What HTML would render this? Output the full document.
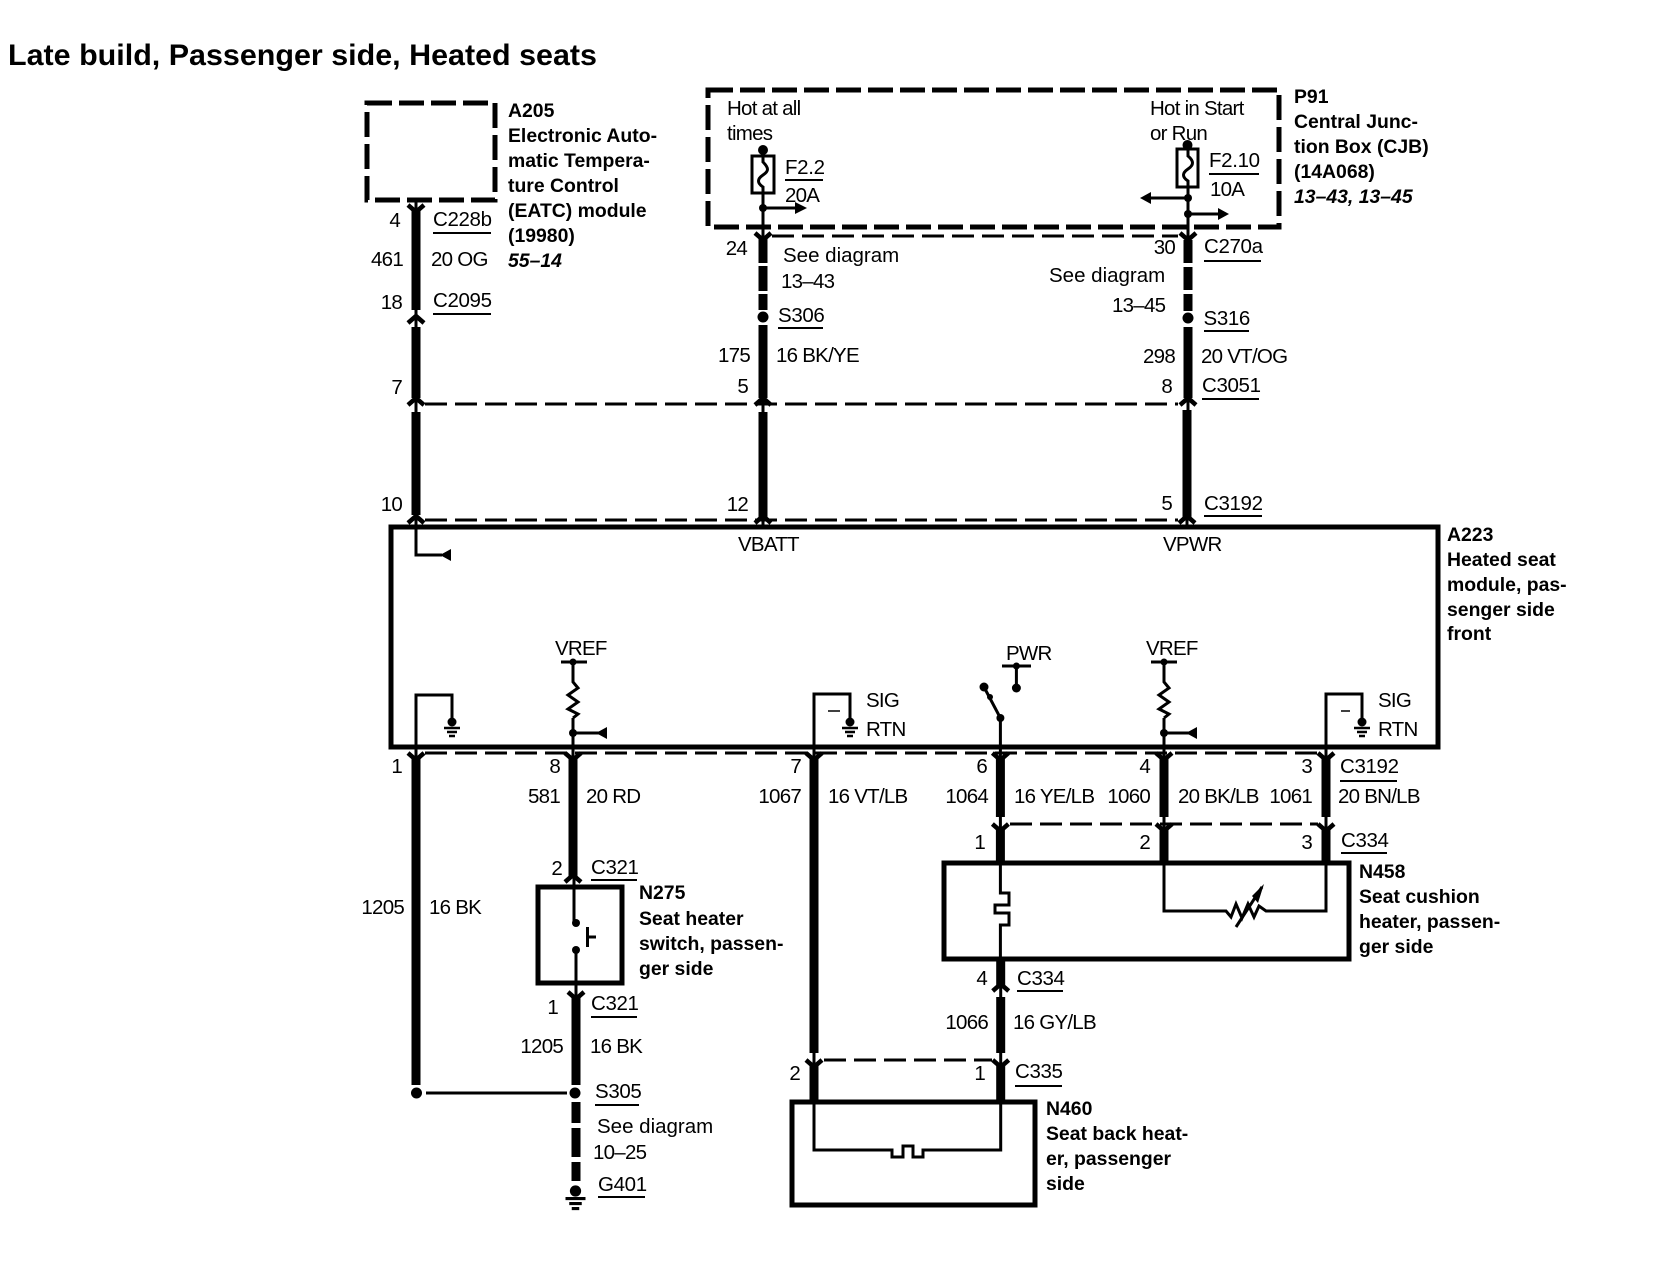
<!DOCTYPE html>
<html><head><meta charset="utf-8"><style>
html,body{margin:0;padding:0;background:#fff}
svg{display:block}
text{font-family:"Liberation Sans",sans-serif;fill:#000}
.r{font-size:20.5px;letter-spacing:-0.75px}
.k{letter-spacing:-0.35px}
.s{letter-spacing:0}
.b{font-size:19.4px;font-weight:bold}
.bi{font-size:19.4px;font-weight:bold;font-style:italic}
.e{text-anchor:end}
.th{stroke:#000;stroke-width:9;fill:none}
.t{stroke:#000;stroke-width:3;fill:none}
.u{stroke:#000;stroke-width:2;fill:none}
.bx{stroke:#000;stroke-width:5;fill:none}
.d{stroke:#000;stroke-width:5;fill:none;stroke-dasharray:25 7}
.dl{stroke:#000;stroke-width:3;fill:none;stroke-dasharray:22 8}
.c{stroke:#000;stroke-width:4.5;fill:none}
</style></head><body>
<svg width="1662" height="1264" viewBox="0 0 1662 1264" xmlns="http://www.w3.org/2000/svg">
<defs>
<path id="dn" d="M-8,0 L0,7 L8,0" class="c"/>
<path id="up" d="M-8,7 L0,0 L8,7" class="c"/>
<g id="gnd"><circle cx="0" cy="0" r="4.5"/><path d="M-8,6H8M-5,10H5M-3,14H3" stroke="#000" stroke-width="2.5" fill="none"/></g>
<path id="res" d="M0,0V4L5,10L-5,17L5,24L-5,31L5,36L0,40" class="t"/>
</defs>

<text x="8" y="65" font-size="29.5" font-weight="bold" textLength="589" lengthAdjust="spacingAndGlyphs">Late build, Passenger side, Heated seats</text>

<!-- boxes -->
<rect x="367" y="103" width="128" height="97" class="d"/>
<rect x="708" y="90" width="571" height="137" class="d"/>
<rect x="391" y="527" width="1047" height="220" class="bx"/>
<rect x="538" y="887" width="84" height="96" class="bx"/>
<rect x="944" y="863" width="405" height="96" class="bx"/>
<rect x="792" y="1102" width="243" height="103" class="bx"/>

<!-- dashed connector lines -->
<path d="M772,236H1178" class="dl"/>
<path d="M425,404H1178" class="dl"/>
<path d="M425,520H1178" class="dl"/>
<path d="M425,753H1318" class="dl"/>
<path d="M1010,824H1318" class="dl"/>
<path d="M824,1060H992" class="dl"/>

<!-- wire 1 upper -->
<path d="M416,200V530" class="t"/>
<path d="M416,208V310M416,327V398M416,412V515" class="th"/>
<use href="#dn" x="416" y="205"/><use href="#up" x="416" y="316"/><use href="#up" x="416" y="398"/><use href="#up" x="416" y="516"/>
<path d="M416,527V555H442" class="t"/><path d="M440,555L451,549V561Z"/>

<!-- wire 2 upper -->
<circle cx="763" cy="150" r="5"/>
<path d="M763,150V240" class="t"/>
<rect x="752" y="156" width="22" height="37" fill="#fff" stroke="#000" stroke-width="3"/>
<path d="M763,150V162C769,168 769,171 763,175C757,179 757,183 763,187V193" class="t"/>
<circle cx="763" cy="208" r="4"/>
<path d="M763,208H797" class="t"/><path d="M807,208L795,202V214Z"/>
<path d="M763,238V263M763,266V291M763,294V310M763,325V398M763,412V518" class="th"/>
<path d="M763,398V412M763,516V527" class="t"/>
<use href="#dn" x="763" y="233"/><circle cx="763" cy="317" r="5.5"/><use href="#up" x="763" y="398"/><use href="#up" x="763" y="516"/>

<!-- wire 3 upper -->
<circle cx="1187.5" cy="145" r="5"/>
<path d="M1188,145V240" class="t"/>
<rect x="1177" y="149" width="21" height="38" fill="#fff" stroke="#000" stroke-width="3"/>
<path d="M1188,145V156C1194,161 1194,165 1188,169C1182,173 1182,177 1188,181V187" class="t"/>
<circle cx="1188" cy="198" r="4"/><circle cx="1188" cy="214" r="4"/>
<path d="M1188,198H1150" class="t"/><path d="M1140,198L1151,192V204Z"/>
<path d="M1188,214H1220" class="t"/><path d="M1229,214L1218,208V220Z"/>
<path d="M1188,240V263M1188,267V290M1188,294V311M1188,327V398M1187,410V518" class="th"/>
<path d="M1188,398V410M1187,516V527" class="t"/>
<use href="#dn" x="1188" y="233"/><circle cx="1188" cy="318" r="5.5"/><use href="#up" x="1188" y="398"/><use href="#up" x="1187" y="516"/>

<!-- module bottom internals -->
<path d="M416,747V695H452V722" class="t"/><use href="#gnd" x="452" y="722"/>
<path d="M561,662H587" class="t"/><circle cx="573" cy="662" r="3.5"/>
<path d="M573,662V678M573,718V747M573,733H600" class="t"/><use href="#res" x="573" y="678"/>
<circle cx="573" cy="733" r="4"/><path d="M596,733L607,727V739Z"/>
<path d="M814,747V694H850V722" class="t"/><use href="#gnd" x="850" y="722"/><path d="M828,711H840" stroke="#000" stroke-width="1.5"/>
<path d="M1002,666H1031" class="t"/><circle cx="1016.4" cy="666" r="3.5"/><path d="M1016.4,666V688" class="t"/><circle cx="1016.4" cy="688" r="4.5"/>
<circle cx="984" cy="687" r="4.5"/><circle cx="990" cy="697" r="3"/><circle cx="1000.4" cy="718" r="4"/>
<path d="M984,687L1000.4,718V747" class="t"/>
<path d="M1151,662H1177" class="t"/><circle cx="1164" cy="662" r="3.5"/>
<path d="M1164,662V678M1164,718V747M1164,733H1190" class="t"/><use href="#res" x="1164" y="678"/>
<circle cx="1164" cy="733" r="4"/><path d="M1186,733L1197,727V739Z"/>
<path d="M1326,747V694H1362V722" class="t"/><use href="#gnd" x="1362" y="722"/><path d="M1341,711H1350" stroke="#000" stroke-width="1.5"/>

<!-- lower wires -->
<path d="M416,747V758M573,747V758M814,747V758M1000.4,747V758M1164,747V758M1326,747V758" class="t"/>
<use href="#dn" x="416" y="753"/><use href="#dn" x="573" y="753"/><use href="#dn" x="814" y="753"/><use href="#dn" x="1000.4" y="753"/><use href="#dn" x="1164" y="753"/><use href="#dn" x="1326" y="753"/>
<path d="M416,758V1085" class="th"/>
<circle cx="416.5" cy="1093" r="5.5"/><path d="M426,1093H567" class="t"/><circle cx="575" cy="1093" r="5.5"/>
<path d="M573,758V876" class="th"/><use href="#up" x="573" y="875"/>
<path d="M574,876V923M576,950V998" class="t"/><circle cx="576" cy="923" r="4"/><circle cx="576" cy="950" r="4"/>
<path d="M587.5,927V947M587.5,937H596" class="t"/>
<use href="#dn" x="576" y="992"/>
<path d="M576,996V1085M576,1102V1123M576,1128V1157M576,1162V1181" class="th"/>
<g transform="translate(575.5,1191) scale(1.25)"><use href="#gnd"/></g>

<path d="M814,758V1053M1000.4,758V817M1164,758V817M1326,758V817" class="th"/>
<path d="M1000.4,817V830M1164,817V830M1326,817V830" class="t"/>
<use href="#dn" x="1000.4" y="824"/><use href="#dn" x="1164" y="824"/><use href="#dn" x="1326" y="824"/>
<path d="M1000.4,830V863M1164,830V863M1326,830V863" class="th"/>
<path d="M1000.4,863V893H1009V905H995V913H1009V925H1000.4V959" class="t"/>
<path d="M1164,863V911H1226L1231,917L1236,904L1242,918L1248,904L1254,917L1259,906L1266,911H1326V863" class="t"/>
<path d="M1236,927L1262,887" class="t"/><path d="M1264,884L1252,896L1258,903Z"/>

<path d="M1000.7,959V985" class="th"/><use href="#up" x="1000.7" y="984"/>
<path d="M1000.7,984V998" class="t"/><path d="M1000.7,997V1053" class="th"/>
<path d="M814,1053V1067M1000.7,1053V1067" class="t"/>
<use href="#dn" x="814" y="1060"/><use href="#dn" x="1000.7" y="1060"/>
<path d="M814,1066V1102M1000.7,1066V1102" class="th"/>
<path d="M814,1102V1150H892V1157H903V1146H913V1157H923V1150H1000.7V1102" class="t"/>

<!-- labels: A205 -->
<text class="b" x="508" y="117">A205</text>
<text class="b" x="508" y="142">Electronic Auto-</text>
<text class="b" x="508" y="167">matic Tempera-</text>
<text class="b" x="508" y="192">ture Control</text>
<text class="b" x="508" y="217">(EATC) module</text>
<text class="b" x="508" y="242">(19980)</text>
<text class="bi" x="508" y="267">55–14</text>
<text class="r k" x="433" y="226">C228b</text><path d="M433,233H491" class="u"/>
<text class="r" x="431" y="266">20 OG</text>
<text class="r e" x="400" y="227">4</text>
<text class="r e" x="403" y="266">461</text>
<text class="r e" x="402" y="309">18</text>
<text class="r k" x="433" y="307">C2095</text><path d="M433,314H491" class="u"/>
<text class="r e" x="402" y="394">7</text>
<text class="r e" x="402" y="511">10</text>

<!-- P91 -->
<text class="r" x="727" y="115">Hot at all</text>
<text class="r" x="727" y="140">times</text>
<text class="r k" x="785" y="174">F2.2</text><path d="M785,180H823" class="u"/>
<text class="r" x="785" y="202">20A</text>
<text class="r" x="1150" y="115">Hot in Start</text>
<text class="r" x="1150" y="140">or Run</text>
<text class="r k" x="1209" y="167">F2.10</text><path d="M1209,174H1259" class="u"/>
<text class="r" x="1210" y="196">10A</text>
<text class="b" x="1294" y="103">P91</text>
<text class="b" x="1294" y="128">Central Junc-</text>
<text class="b" x="1294" y="153">tion Box (CJB)</text>
<text class="b" x="1294" y="178">(14A068)</text>
<text class="bi" x="1294" y="203">13–43, 13–45</text>

<!-- wire 2 labels -->
<text class="r e" x="747" y="255">24</text>
<text class="r s" x="783" y="262">See diagram</text>
<text class="r" x="781" y="288">13–43</text>
<text class="r k" x="778" y="322">S306</text><path d="M778,328H823" class="u"/>
<text class="r e" x="750" y="362">175</text>
<text class="r" x="776" y="362">16 BK/YE</text>
<text class="r e" x="748" y="393">5</text>
<text class="r e" x="748" y="511">12</text>
<text class="r" x="738" y="551">VBATT</text>

<!-- wire 3 labels -->
<text class="r e" x="1175" y="254">30</text>
<text class="r k" x="1204" y="253">C270a</text><path d="M1204,261H1261" class="u"/>
<text class="r s" x="1049" y="282">See diagram</text>
<text class="r" x="1112" y="312">13–45</text>
<text class="r k" x="1203.5" y="325">S316</text><path d="M1204,331H1249" class="u"/>
<text class="r e" x="1175" y="363">298</text>
<text class="r" x="1201" y="363">20 VT/OG</text>
<text class="r e" x="1172" y="393">8</text>
<text class="r k" x="1202" y="392">C3051</text><path d="M1202,399H1259" class="u"/>
<text class="r e" x="1172" y="510">5</text>
<text class="r k" x="1204" y="510">C3192</text><path d="M1204,516H1262" class="u"/>
<text class="r" x="1163" y="551">VPWR</text>

<!-- A223 -->
<text class="b" x="1447" y="541">A223</text>
<text class="b" x="1447" y="566">Heated seat</text>
<text class="b" x="1447" y="591">module, pas-</text>
<text class="b" x="1447" y="616">senger side</text>
<text class="b" x="1447" y="640">front</text>

<text class="r" x="555" y="655">VREF</text>
<text class="r" x="866" y="707">SIG</text>
<text class="r" x="866" y="736">RTN</text>
<text class="r" x="1006" y="660">PWR</text>
<text class="r" x="1146" y="655">VREF</text>
<text class="r" x="1378" y="707">SIG</text>
<text class="r" x="1378" y="736">RTN</text>

<!-- lower labels -->
<text class="r e" x="402" y="773">1</text>
<text class="r e" x="560" y="773">8</text>
<text class="r e" x="560" y="803">581</text>
<text class="r" x="586" y="803">20 RD</text>
<text class="r e" x="801" y="773">7</text>
<text class="r e" x="801" y="803">1067</text>
<text class="r" x="828" y="803">16 VT/LB</text>
<text class="r e" x="562" y="875">2</text>
<text class="r k" x="591" y="874">C321</text><path d="M591,880H637" class="u"/>
<text class="b" x="639" y="899">N275</text>
<text class="b" x="639" y="925">Seat heater</text>
<text class="b" x="639" y="950">switch, passen-</text>
<text class="b" x="639" y="975">ger side</text>
<text class="r e" x="404" y="914">1205</text>
<text class="r" x="429" y="914">16 BK</text>
<text class="r e" x="558" y="1014">1</text>
<text class="r k" x="591" y="1010">C321</text><path d="M591,1017H637" class="u"/>
<text class="r e" x="563" y="1053">1205</text>
<text class="r" x="590" y="1053">16 BK</text>
<text class="r k" x="595" y="1098">S305</text><path d="M595,1105H639" class="u"/>
<text class="r s" x="597" y="1133">See diagram</text>
<text class="r" x="593" y="1159">10–25</text>
<text class="r k" x="598" y="1191">G401</text><path d="M598,1197H645" class="u"/>

<text class="r e" x="987" y="773">6</text>
<text class="r e" x="988" y="803">1064</text>
<text class="r" x="1014" y="803">16 YE/LB</text>
<text class="r e" x="1150" y="773">4</text>
<text class="r e" x="1150" y="803">1060</text>
<text class="r" x="1178" y="803">20 BK/LB</text>
<text class="r e" x="1312" y="773">3</text>
<text class="r e" x="1312" y="803">1061</text>
<text class="r" x="1338" y="803">20 BN/LB</text>
<text class="r k" x="1340" y="773">C3192</text><path d="M1340,781H1397" class="u"/>
<text class="r e" x="985" y="849">1</text>
<text class="r e" x="1150" y="849">2</text>
<text class="r e" x="1312" y="849">3</text>
<text class="r k" x="1341" y="847">C334</text><path d="M1341,853H1387" class="u"/>
<text class="b" x="1359" y="878">N458</text>
<text class="b" x="1359" y="903">Seat cushion</text>
<text class="b" x="1359" y="928">heater, passen-</text>
<text class="b" x="1359" y="953">ger side</text>
<text class="r e" x="987" y="985">4</text>
<text class="r k" x="1017" y="985">C334</text><path d="M1017,991H1063" class="u"/>
<text class="r e" x="988" y="1029">1066</text>
<text class="r" x="1013" y="1029">16 GY/LB</text>
<text class="r e" x="800" y="1080">2</text>
<text class="r e" x="985" y="1080">1</text>
<text class="r k" x="1015" y="1078">C335</text><path d="M1015,1086H1062" class="u"/>
<text class="b" x="1046" y="1115">N460</text>
<text class="b" x="1046" y="1140">Seat back heat-</text>
<text class="b" x="1046" y="1165">er, passenger</text>
<text class="b" x="1046" y="1190">side</text>
</svg>
</body></html>
